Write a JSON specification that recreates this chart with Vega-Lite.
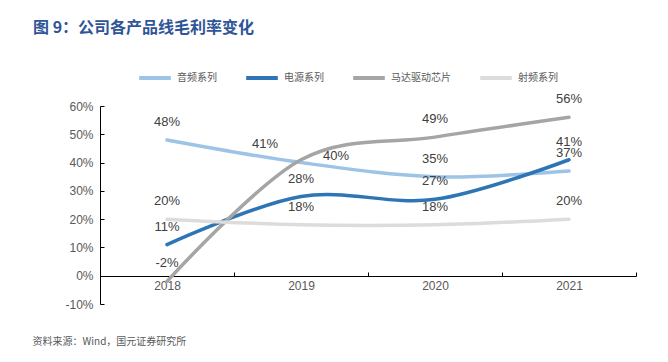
{
  "$schema": "https://vega.github.io/schema/vega-lite/v6.json",
  "width": 536,
  "height": 198,
  "autosize": {"type": "none"},
  "padding": {"left": 100, "top": 106, "right": 32, "bottom": 58},
  "background": "white",
  "title": {
    "text": "图 9：公司各产品线毛利率变化",
    "anchor": "start",
    "frame": "group",
    "dx": -67,
    "fontSize": 16,
    "font": "Noto Sans CJK SC",
    "fontWeight": "bold",
    "color": "#2F5597",
    "offset": 24
  },
  "config": {
    "view": {"stroke": null},
    "locale": {"number": {"decimal": ".", "thousands": ",", "grouping": [3], "currency": ["$", ""], "minus": "-"}}
  },
  "data": {
    "values": [
      {"year": "2018", "series": "音频系列", "value": 0.48},
      {"year": "2019", "series": "音频系列", "value": 0.40},
      {"year": "2020", "series": "音频系列", "value": 0.35},
      {"year": "2021", "series": "音频系列", "value": 0.37},
      {"year": "2018", "series": "电源系列", "value": 0.11},
      {"year": "2019", "series": "电源系列", "value": 0.28},
      {"year": "2020", "series": "电源系列", "value": 0.27},
      {"year": "2021", "series": "电源系列", "value": 0.41},
      {"year": "2018", "series": "马达驱动芯片", "value": -0.02},
      {"year": "2019", "series": "马达驱动芯片", "value": 0.41},
      {"year": "2020", "series": "马达驱动芯片", "value": 0.49},
      {"year": "2021", "series": "马达驱动芯片", "value": 0.56},
      {"year": "2018", "series": "射频系列", "value": 0.20},
      {"year": "2019", "series": "射频系列", "value": 0.18},
      {"year": "2020", "series": "射频系列", "value": 0.18},
      {"year": "2021", "series": "射频系列", "value": 0.20}
    ]
  },
  "encoding": {
    "x": {
      "field": "year",
      "type": "ordinal",
      "scale": {"paddingInner": 0, "paddingOuter": 0},
      "axis": {
        "title": "资料来源：Wind，国元证券研究所",
        "titleFont": "Noto Sans CJK SC",
        "titleFontSize": 10,
        "titleFontWeight": "normal",
        "titleColor": "#595959",
        "titleAnchor": "start",
        "titleAlign": "left",
        "titleBaseline": "middle",
        "titleX": -68,
        "titleY": 65,
        "offset": -28,
        "labelAngle": 0,
        "labelFont": "Liberation Sans",
        "labelFontSize": 12,
        "labelColor": "#595959",
        "labelPadding": 8,
        "tickBand": "extent",
        "tickSize": -4,
        "tickColor": "#000000",
        "domainColor": "#000000",
        "domainWidth": 1
      }
    },
    "y": {
      "field": "value",
      "type": "quantitative",
      "scale": {"domain": [-0.1, 0.6], "nice": false},
      "axis": {
        "title": null,
        "format": ".0%",
        "values": [-0.1, 0, 0.1, 0.2, 0.3, 0.4, 0.5, 0.6],
        "grid": false,
        "labelFont": "Liberation Sans",
        "labelFontSize": 12,
        "labelColor": "#595959",
        "labelPadding": 11,
        "tickSize": -4,
        "tickColor": "#000000",
        "domainColor": "#000000",
        "domainWidth": 1
      }
    }
  },
  "layer": [
    {
      "mark": {"type": "line", "interpolate": "cardinal", "strokeWidth": 3.5, "strokeCap": "round"},
      "encoding": {
        "color": {
          "field": "series",
          "type": "nominal",
          "scale": {
            "domain": ["音频系列", "电源系列", "马达驱动芯片", "射频系列"],
            "range": ["#9DC3E6", "#2E75B6", "#A5A5A5", "#DCDCDC"]
          },
          "legend": {
            "title": null,
            "orient": "none",
            "direction": "horizontal",
            "legendX": 37,
            "legendY": -46,
            "symbolType": "stroke",
            "symbolSize": 1000,
            "symbolStrokeWidth": 4,
            "labelFont": "Noto Sans CJK SC",
            "labelFontSize": 10,
            "labelColor": "#595959",
            "labelOffset": 4,
            "columnPadding": 21
          }
        }
      }
    },
    {
      "transform": [{"filter": "!(datum.year == '2019' && (datum.series == '马达驱动芯片' || datum.series == '音频系列'))"}],
      "mark": {"type": "text", "dy": -18, "font": "Liberation Sans", "fontSize": 13, "color": "#404040"},
      "encoding": {"text": {"field": "value", "type": "quantitative", "format": ".0%"}}
    },
    {
      "transform": [{"filter": "datum.year == '2019' && datum.series == '音频系列'"}],
      "mark": {"type": "text", "dx": 35, "dy": -7, "font": "Liberation Sans", "fontSize": 13, "color": "#404040"},
      "encoding": {"text": {"field": "value", "type": "quantitative", "format": ".0%"}}
    },
    {
      "transform": [{"filter": "datum.year == '2019' && datum.series == '马达驱动芯片'"}],
      "mark": {"type": "text", "dx": -36, "dy": -16, "font": "Liberation Sans", "fontSize": 13, "color": "#404040"},
      "encoding": {"text": {"field": "value", "type": "quantitative", "format": ".0%"}}
    }
  ]
}
